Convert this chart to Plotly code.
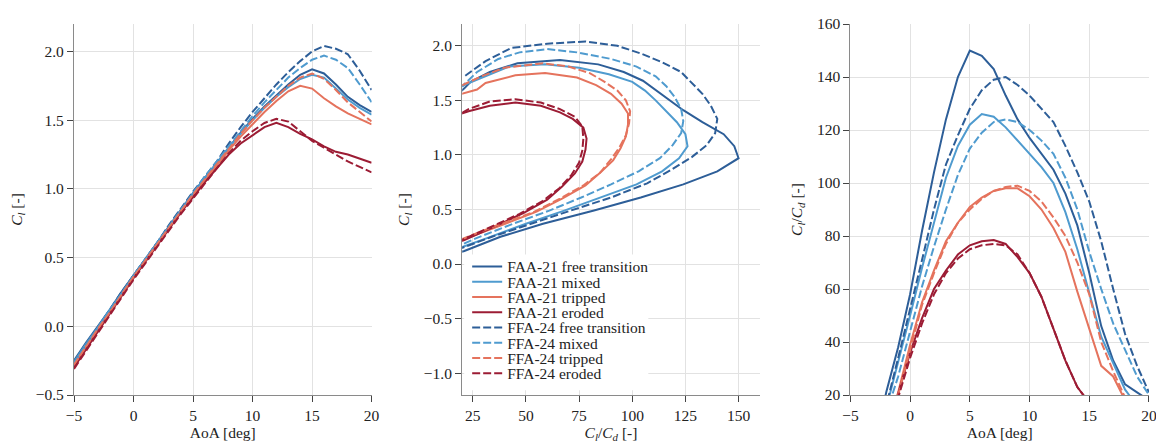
import plotly.graph_objects as go

# ---------------- data ----------------
aoa = list(range(-5, 21))

cl_faa21_free = [-0.25, -0.12, 0.00, 0.12, 0.25, 0.37, 0.49, 0.61, 0.73, 0.85, 0.97, 1.08, 1.19, 1.30, 1.41, 1.51, 1.60, 1.68, 1.76, 1.83, 1.87, 1.84, 1.76, 1.67, 1.61, 1.56]
cl_faa21_mixed = [-0.26, -0.13, -0.01, 0.12, 0.24, 0.37, 0.49, 0.61, 0.73, 0.85, 0.97, 1.08, 1.19, 1.30, 1.40, 1.50, 1.59, 1.67, 1.74, 1.80, 1.83, 1.81, 1.73, 1.65, 1.59, 1.54]
cl_faa21_tripped = [-0.28, -0.15, -0.03, 0.10, 0.23, 0.36, 0.48, 0.60, 0.72, 0.84, 0.95, 1.06, 1.17, 1.28, 1.38, 1.47, 1.56, 1.64, 1.71, 1.75, 1.73, 1.66, 1.60, 1.55, 1.51, 1.47]
cl_faa21_eroded = [-0.30, -0.17, -0.04, 0.09, 0.22, 0.35, 0.47, 0.59, 0.71, 0.83, 0.94, 1.05, 1.15, 1.25, 1.33, 1.39, 1.45, 1.48, 1.45, 1.40, 1.36, 1.31, 1.27, 1.25, 1.22, 1.19]
cl_ffa24_free = [-0.27, -0.14, -0.01, 0.12, 0.25, 0.37, 0.49, 0.61, 0.74, 0.86, 0.98, 1.09, 1.20, 1.33, 1.45, 1.56, 1.66, 1.76, 1.85, 1.93, 2.00, 2.04, 2.02, 1.98, 1.86, 1.72]
cl_ffa24_mixed = [-0.27, -0.14, -0.01, 0.12, 0.24, 0.37, 0.49, 0.61, 0.73, 0.85, 0.97, 1.09, 1.20, 1.31, 1.42, 1.53, 1.63, 1.72, 1.81, 1.88, 1.94, 1.97, 1.94, 1.88, 1.76, 1.63]
cl_ffa24_tripped = [-0.28, -0.15, -0.02, 0.10, 0.23, 0.36, 0.48, 0.60, 0.72, 0.84, 0.96, 1.07, 1.18, 1.29, 1.40, 1.50, 1.59, 1.67, 1.75, 1.81, 1.84, 1.80, 1.72, 1.63, 1.56, 1.49]
cl_ffa24_eroded = [-0.31, -0.18, -0.05, 0.08, 0.21, 0.34, 0.46, 0.58, 0.70, 0.82, 0.93, 1.04, 1.15, 1.26, 1.35, 1.42, 1.48, 1.51, 1.49, 1.42, 1.35, 1.30, 1.25, 1.20, 1.16, 1.12]

clcd_faa21_free = [-30, -16, 0, 21, 38, 58, 82, 104, 124, 140, 150, 148, 143, 133, 124, 117, 111, 105, 96, 84, 66, 46, 33, 24, 21, 18]
clcd_faa21_mixed = [-32, -18, -2, 15, 32, 50, 68, 85, 102, 114, 122, 126, 125, 121, 116, 111, 106, 100, 89, 75, 59, 42, 32, 22, 16, 12]
clcd_faa21_tripped = [-30, -17, -5, 6, 21, 39, 55, 67, 78, 85, 91, 94.5, 97, 98, 98, 95, 90, 83, 74, 59, 45, 31, 27, 18, 13, 10]
clcd_faa21_eroded = [-32, -19, -6, 5, 21, 36, 49, 60, 67, 73, 76.5, 78, 78.5, 77, 72, 66, 57, 45, 33, 23, 17, 12, 9, 7, 6, 5]
clcd_ffa24_free = [-30, -15, 0, 16, 34, 52, 71, 90, 107, 118, 128, 135, 139, 140, 137, 133, 128, 123, 114, 104, 93, 78, 60, 43, 31, 21]
clcd_ffa24_mixed = [-31, -16, -1, 13, 27, 44, 61, 76, 90, 103, 113, 119, 123, 124, 123, 120, 116, 111, 102, 90, 74, 60, 47, 37, 27, 20]
clcd_ffa24_tripped = [-31, -18, -6, 5, 20, 37, 54, 66, 77, 85, 90, 94, 97, 98.5, 99, 97, 93, 87, 80, 70, 58, 40, 29, 19, 14, 10]
clcd_ffa24_eroded = [-33, -20, -7, 4, 19, 34, 47, 58, 66, 71.5, 75, 76.5, 77, 76.5, 73, 66, 57, 45, 33, 23, 17, 12, 9, 7, 6, 5]

names = ["FAA-21 free transition", "FAA-21 mixed", "FAA-21 tripped", "FAA-21 eroded",
         "FFA-24 free transition", "FFA-24 mixed", "FFA-24 tripped", "FFA-24 eroded"]
cl_all = [cl_faa21_free, cl_faa21_mixed, cl_faa21_tripped, cl_faa21_eroded,
          cl_ffa24_free, cl_ffa24_mixed, cl_ffa24_tripped, cl_ffa24_eroded]
clcd_all = [clcd_faa21_free, clcd_faa21_mixed, clcd_faa21_tripped, clcd_faa21_eroded,
            clcd_ffa24_free, clcd_ffa24_mixed, clcd_ffa24_tripped, clcd_ffa24_eroded]

# ---------------- style ----------------
colors = ["#2d5e98", "#4f9bcf", "#e5735d", "#9c1c34"] * 2
dashes = ["solid"] * 4 + ["8px,3px"] * 4
FONT = "Liberation Serif, Times New Roman, Times, DejaVu Serif, serif"
FS = 15.5
TXT = "#222222"

# the page body has an 8px margin: the figure is drawn 8px smaller and the
# margins are adjusted so the plot areas land where the reference has them
OFF = 8
W, H = 1164 - OFF, 446 - OFF
ML, MR, MT, MB = 73 - OFF, 11, 15 - OFF, 48
PW, PH = W - ML - MR, H - MT - MB   # 1080 x 383


def px_x(px):  # page x pixel -> paper fraction
    return (px - OFF - ML) / PW


def px_y(py):  # page y pixel -> paper fraction
    return (H - MB - (py - OFF)) / PH


fig = go.Figure()
legend_ids = ["legend"] + [f"legend{k}" for k in range(2, 9)]

for i in range(8):
    line = dict(color=colors[i], width=2, dash=dashes[i])
    fig.add_trace(go.Scatter(x=aoa, y=cl_all[i], mode="lines", line=line,
                             xaxis="x", yaxis="y", showlegend=False, name=names[i]))
    fig.add_trace(go.Scatter(x=clcd_all[i], y=cl_all[i], mode="lines", line=line,
                             xaxis="x2", yaxis="y2", showlegend=True, name=names[i],
                             legend=legend_ids[i]))
    fig.add_trace(go.Scatter(x=aoa, y=clcd_all[i], mode="lines", line=line,
                             xaxis="x3", yaxis="y3", showlegend=False, name=names[i]))

common = dict(showline=True, linecolor="#8a8a8a", linewidth=1.2, ticks="outside", ticklen=6,
              tickcolor="#444444", tickwidth=1.2, showgrid=True, gridcolor="#e2e2e2", gridwidth=1,
              zeroline=False, mirror=False, ticklabeloverflow="allow",
              tickfont=dict(family=FONT, size=FS, color=TXT))


def title(t, standoff):
    return dict(text=t, font=dict(family=FONT, size=FS, color=TXT), standoff=standoff)


cl_title = "<i>C<sub>l</sub></i> [-]"
clcd_title = "<i>C<sub>l</sub></i>/<i>C<sub>d</sub></i> [-]"

fig.update_layout(
    xaxis=dict(domain=[px_x(73), px_x(372)], range=[-5, 20], tick0=-5, dtick=5, anchor="y",
               title=title("AoA [deg]", 4), **common),
    yaxis=dict(domain=[0, 1], range=[-0.5, 2.2], tick0=-0.5, dtick=0.5, tickformat=".1f",
               anchor="x", title=title(cl_title, 10), **common),
    xaxis2=dict(domain=[px_x(463), px_x(762)], range=[20, 160], tickvals=[25, 50, 75, 100, 125, 150],
                anchor="y2", title=title(clcd_title, 4), **common),
    yaxis2=dict(domain=[0, 1], range=[-1.2, 2.2], tickvals=[-1.0, -0.5, 0.0, 0.5, 1.0, 1.5, 2.0],
                tickformat=".1f", anchor="x2", title=title(cl_title, 10), **common),
    xaxis3=dict(domain=[px_x(853), 1.0], range=[-5, 20], tick0=-5, dtick=5, anchor="y3",
                title=title("AoA [deg]", 4), **common),
    yaxis3=dict(domain=[0, 1], range=[20, 160], tick0=20, dtick=20, anchor="x3",
                title=title(clcd_title, 10), **common),
    margin=dict(l=ML, r=MR, t=MT, b=MB),
    width=W, height=H,
    paper_bgcolor="white", plot_bgcolor="white",
    font=dict(family=FONT, size=FS, color=TXT),
    # white backing behind the legend entries (legend box)
    shapes=[dict(type="rect", xref="paper", yref="paper", layer="above",
                 x0=px_x(465), x1=px_x(650), y0=px_y(393), y1=px_y(253),
                 fillcolor="white", line=dict(width=0))],
)

# one legend per entry to reproduce matplotlib's compact row spacing
for k, lid in enumerate(legend_ids):
    py = 265.7 + k * 15.75
    fig.update_layout({lid: dict(x=px_x(468), y=px_y(py), xanchor="left",
                                 yanchor="middle", bgcolor="rgba(0,0,0,0)", borderwidth=0,
                                 font=dict(family=FONT, size=FS, color=TXT))})

fig.write_html("out.html")
